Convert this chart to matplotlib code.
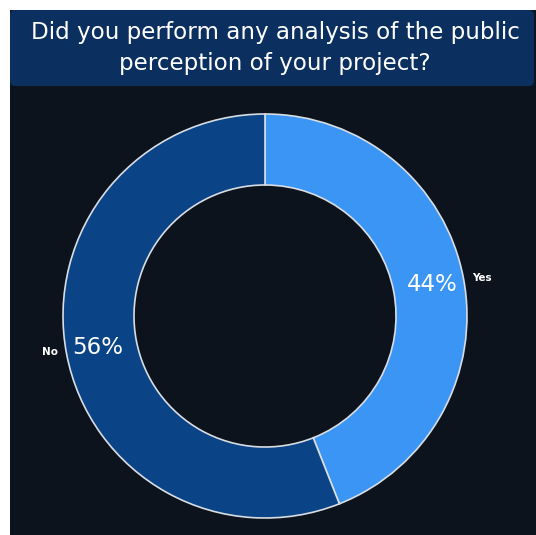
import matplotlib
matplotlib.use("Agg")
import matplotlib.pyplot as plt
from matplotlib.patches import Rectangle, FancyBboxPatch
import numpy as np

# Survey answers
labels = ["Yes", "No"]
values = [44, 56]
colors = ["#3a95f5", "#0a4486"]
title = "Did you perform any analysis of the public\nperception of your project?"

W, H = 536, 535
fig = plt.figure(figsize=(W / 100, H / 100), dpi=100)
fig.patch.set_facecolor("white")
ax = fig.add_axes([0, 0, 1, 1])

# donut
cx, cy = 265, H - 316
r_out, r_in = 202, 131
wedges, _ = ax.pie(values, colors=colors, startangle=90, counterclock=False,
                   radius=r_out, center=(cx, cy), frame=True,
                   wedgeprops=dict(width=r_out - r_in, edgecolor="#d8dde3", linewidth=1.2))
ax.set_xlim(0, W)
ax.set_ylim(0, H)
ax.set_aspect("auto")
ax.axis("off")

# dark panel and title banner (pixel coordinates, y up)
ax.add_patch(Rectangle((10, 0), W - 10, H - 10, facecolor="#0c131c", edgecolor="none", zorder=0))
ax.add_patch(FancyBboxPatch((14, H - 82), 516, 68,
                            boxstyle="round,pad=4,rounding_size=5",
                            facecolor="#0b2f5f", edgecolor="none", zorder=1))
ax.add_patch(Rectangle((10, H - 82), 524, 10, facecolor="#0b2f5f", edgecolor="none", zorder=1))
ax.text(275, H - 48, title, ha="center", va="center", color="white",
        fontsize=16.6, fontfamily="DejaVu Sans", linespacing=1.4, zorder=2)

total = sum(values)
start = 0.0
for lab, v in zip(labels, values):
    mid = (start + v / 2) / total
    ang = mid * 2 * np.pi
    dx, dy = np.sin(ang), np.cos(ang)
    r_mid = 170
    ax.text(cx + dx * r_mid, cy + dy * r_mid, f"{v / total * 100:.0f}%",
            ha="center", va="center", color="white", fontsize=16.5, zorder=5)
    r_lab = 211
    ax.text(cx + dx * r_lab, cy + dy * r_lab + (-2 if dx > 0 else 4), lab,
            ha="left" if dx > 0 else "right", va="center", color="white",
            fontsize=7.5, fontweight="bold", zorder=5)
    start += v

fig.savefig("out.png", dpi=100, facecolor=fig.get_facecolor())
